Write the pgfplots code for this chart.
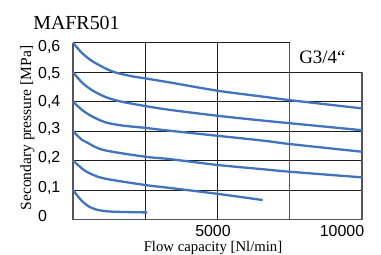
\documentclass[border=0pt]{standalone}
\usepackage{fontspec}
\setmainfont{Liberation Serif}
\newfontfamily\arial{Liberation Sans}
\usepackage{pgfplots}
\pgfplotsset{compat=1.18}
\definecolor{cblue}{RGB}{66,115,190}
\definecolor{gridc}{RGB}{30,30,30}
\definecolor{framec}{RGB}{85,85,85}
\begin{document}
\begin{tikzpicture}
\useasboundingbox (-73bp,-35.5bp) rectangle (308bp,219.5bp);
\begin{axis}[
  at={(0,0)}, anchor=origin,
  scale only axis, width=289bp, height=176.8bp,
  xmin=0, xmax=10000, ymin=0, ymax=0.6,
  axis line style={draw=none},
  major tick length=0pt,
  scaled x ticks=false,
  xtick={4844,9308}, xticklabels={5000,10000},
  ytick={0.0125,0.107,0.209,0.306,0.398,0.494,0.585},
  yticklabels={0,{0,1},{0,2},{0,3},{0,4},{0,5},{0,6}},
  ticklabel style={font=\arial\fontsize{16}{16}\selectfont},
  xticklabel style={anchor=north, inner sep=0pt, yshift=-6bp},
  yticklabel style={anchor=west, inner sep=0pt, xshift=-35bp},
  clip=false,
]
% grid
\draw[gridc, line width=1bp] (axis cs:0,0.1) -- (axis cs:10000,0.1);
\draw[gridc, line width=1bp] (axis cs:0,0.2) -- (axis cs:10000,0.2);
\draw[gridc, line width=1bp] (axis cs:0,0.3) -- (axis cs:10000,0.3);
\draw[gridc, line width=1bp] (axis cs:0,0.4) -- (axis cs:10000,0.4);
\draw[gridc, line width=1bp] (axis cs:0,0.5) -- (axis cs:10000,0.5);
\draw[gridc, line width=1bp] (axis cs:0,0.6) -- (axis cs:7500,0.6);
\draw[gridc, line width=1bp] (axis cs:2500,0) -- (axis cs:2500,0.6);
\draw[gridc, line width=1bp] (axis cs:5000,0) -- (axis cs:5000,0.6);
\draw[framec, line width=1.2bp] (axis cs:7500,0) -- (axis cs:7500,0.6);
\draw[framec, line width=1.2bp] (axis cs:10000,0) -- (axis cs:10000,0.5);
\draw[framec, line width=1.4bp] (axis cs:0,0.6) -- (axis cs:0,0) -- (axis cs:10000,0);
% curves
\addplot[cblue, line width=2.3bp, smooth, tension=0.5] coordinates {
 (0,0.6) (311,0.565) (657,0.538) (1118,0.513) (1465,0.499) (2042,0.486) (2500,0.479)
 (3356,0.465) (5007,0.437) (6644,0.416) (7509,0.405) (10000,0.377)};
\addplot[cblue, line width=2.3bp, smooth, tension=0.5] coordinates {
 (0,0.5) (311,0.465) (657,0.439) (1118,0.416) (1626,0.401) (2500,0.385) (3356,0.372)
 (5007,0.352) (6644,0.335) (10000,0.303)};
\addplot[cblue, line width=2.3bp, smooth, tension=0.5] coordinates {
 (0,0.4) (311,0.372) (657,0.35) (1118,0.33) (1695,0.319) (2500,0.311) (3183,0.303)
 (5007,0.284) (6644,0.267) (7509,0.256) (10000,0.23)};
\addplot[cblue, line width=2.3bp, smooth, tension=0.5] coordinates {
 (0,0.3) (311,0.27) (473,0.262) (1050,0.236) (2500,0.213) (3356,0.205) (5007,0.185)
 (6644,0.170) (7509,0.162) (10000,0.143)};
\addplot[cblue, line width=2.3bp, smooth, tension=0.5] coordinates {
 (0,0.2) (242,0.179) (473,0.162) (1050,0.14) (2500,0.117) (3356,0.107) (5007,0.087) (6563,0.066)};
\addplot[cblue, line width=2.3bp, smooth, tension=0.5] coordinates {
 (0,0.1) (242,0.07) (473,0.049) (761,0.035) (1280,0.027) (2572,0.024)};
% texts
\node[anchor=base, font=\fontsize{20}{20}\selectfont] at (axis cs:121,0.6447) {MAFR501};
\node[anchor=base, font=\fontsize{19}{19}\selectfont] at (axis cs:8630,0.5295) {G3/4“};
\node[anchor=base, inner sep=0pt, font=\fontsize{14.8}{14.8}\selectfont] at (axis cs:4844,-0.1085) {Flow capacity [Nl/min]};
\node[rotate=90, anchor=center, font=\fontsize{15.6}{15.6}\selectfont] at (axis cs:-1574,0.3105) {Secondary pressure [MPa]};
\end{axis}
\end{tikzpicture}
\end{document}
